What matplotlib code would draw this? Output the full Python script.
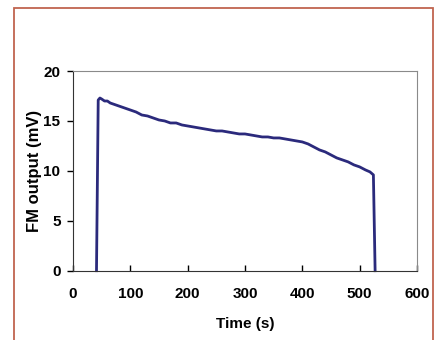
import matplotlib
matplotlib.use("Agg")
import matplotlib.pyplot as plt
from matplotlib.patches import Rectangle

plt.rcParams['font.family'] = ['Liberation Sans', 'DejaVu Sans']

# FM output trace (mV) against time (s)
time_s = [41, 44, 47, 50, 55, 60, 65, 70, 75, 80, 85, 90, 95, 100, 110, 120, 130, 140,
          150, 160, 170, 180, 190, 200, 210, 220, 230, 240, 250, 260, 270, 280, 290,
          300, 310, 320, 330, 340, 350, 360, 370, 380, 390, 400, 410, 420, 430, 440,
          450, 460, 470, 480, 490, 500, 510, 518, 524, 527]
fm_mv = [0, 17.1, 17.3, 17.2, 17.0, 17.0, 16.8, 16.7, 16.6, 16.5, 16.4, 16.3, 16.2, 16.1,
         15.9, 15.6, 15.5, 15.3, 15.1, 15.0, 14.8, 14.8, 14.6, 14.5, 14.4, 14.3, 14.2,
         14.1, 14.0, 14.0, 13.9, 13.8, 13.7, 13.7, 13.6, 13.5, 13.4, 13.4, 13.3, 13.3,
         13.2, 13.1, 13.0, 12.9, 12.7, 12.4, 12.1, 11.9, 11.6, 11.3, 11.1, 10.9, 10.6,
         10.4, 10.1, 9.9, 9.6, 0]

xticks = [0, 100, 200, 300, 400, 500, 600]
yticks = [0, 5, 10, 15, 20]

fig = plt.figure(figsize=(4.41, 3.40), dpi=100)
ax = fig.add_axes([0.1655, 0.2038, 0.78, 0.5872])

# frame around the figure panel
fig.patches.append(Rectangle((0.0317, -0.2), 0.9503, 1.1765, transform=fig.transFigure,
                             fill=False, edgecolor='#c0654f', linewidth=1.3))

ax.plot(time_s, fm_mv, color='#2b2a7c', linewidth=2.0, clip_on=False)

ax.set_xlim(0, 600)
ax.set_ylim(0, 20)
ax.set_xticks(xticks)
ax.set_yticks(yticks)
ax.tick_params(axis='x', direction='in', length=4, width=1, pad=12)
ax.tick_params(axis='y', direction='out', length=4, width=1, pad=5)
for lbl in ax.get_xticklabels() + ax.get_yticklabels():
    lbl.set_fontsize(11)
    lbl.set_fontweight('bold')

ax.spines['left'].set_color('#333333')
ax.spines['bottom'].set_color('#333333')
ax.spines['top'].set_color('#8a8a8a')
ax.spines['right'].set_color('#8a8a8a')

ax.set_xlabel('Time (s)', fontsize=11, fontweight='bold', labelpad=11)
ax.set_ylabel('FM output (mV)', fontsize=12, fontweight='bold', labelpad=1)

fig.savefig('out.png', dpi=100)
